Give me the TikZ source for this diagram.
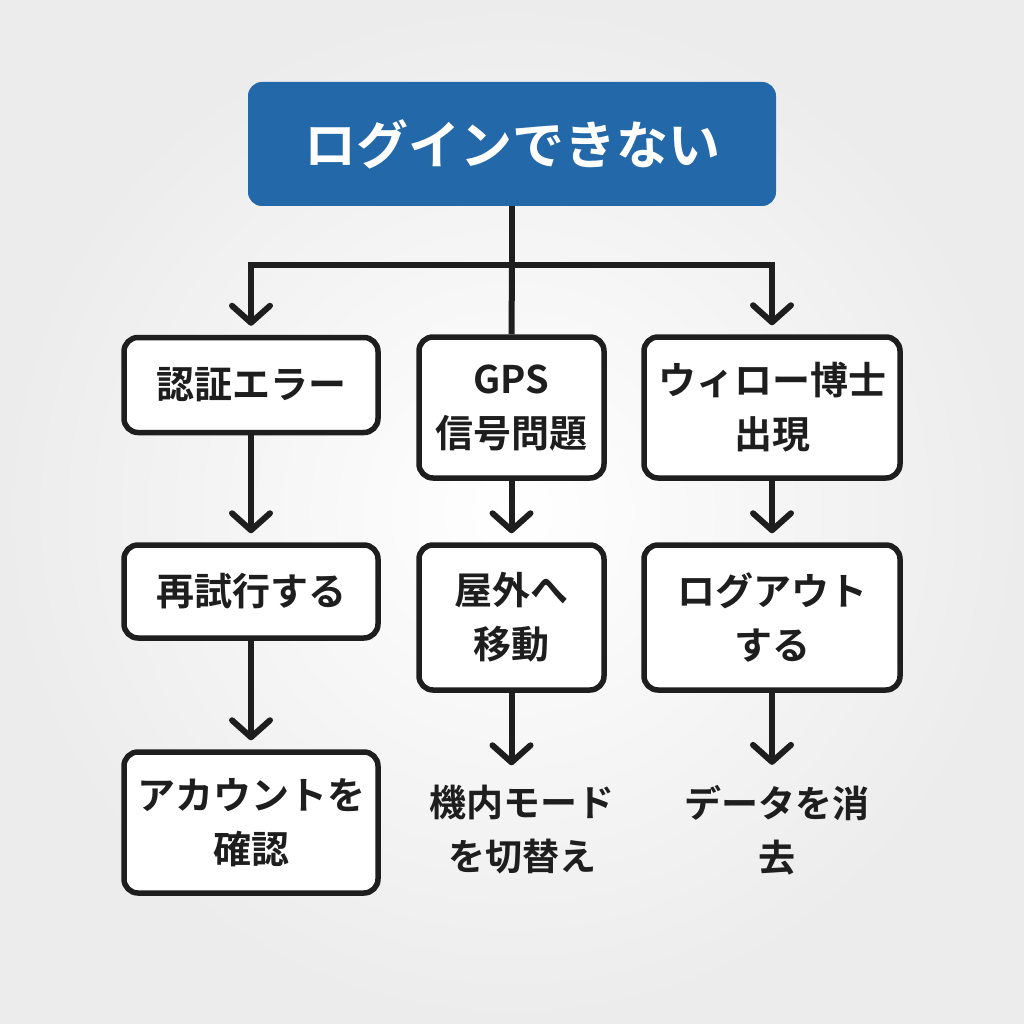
\documentclass[tikz,border=0pt]{standalone}
\usepackage{fontspec}
\setmainfont{Noto Sans CJK JP}[BoldFont={Noto Sans CJK JP Bold}]
\usetikzlibrary{arrows.meta}
\definecolor{topblue}{HTML}{2368A8}
\definecolor{ink}{HTML}{1E1E1E}
\definecolor{bgout}{HTML}{ECECEC}
\begin{document}
\begin{tikzpicture}[x=1pt,y=-1pt,
  box/.style={draw=ink,line width=5.5pt,rounded corners=14pt,fill=white,align=center,
     font=\bfseries\fontsize{38}{54}\selectfont,text=ink,inner sep=0pt},
  plain/.style={align=center,font=\bfseries\fontsize{37}{54}\selectfont,text=ink,inner sep=0pt},
  conn/.style={draw=ink,line width=6pt},
  arr/.style={conn,-{Straight Barb[length=17pt,width=38pt,line width=6pt,round]},shorten >=9pt}]
\shade[inner color=white,outer color=bgout] (0,0) rectangle (1024,1024);
\useasboundingbox (0,0) rectangle (1024,1024);
\node[fill=topblue,rounded corners=14pt,minimum width=528pt,minimum height=124pt,inner sep=0pt,
  text=white,font=\bfseries\fontsize{52}{60}\selectfont] (top) at (512,144) {ログインできない};
\node[box,minimum width=254pt,minimum height=95pt] (l1) at (251,385) {認証エラー};
\node[box,minimum width=185pt,minimum height=141pt] (m1) at (511.5,407.5) {GPS\\信号問題};
\node[box,minimum width=256pt,minimum height=141pt] (r1) at (772,407.5) {ウィロー博士\\出現};
\node[box,minimum width=254pt,minimum height=93pt] (l2) at (251,591.5) {再試行する};
\node[box,minimum width=185pt,minimum height=145pt] (m2) at (511.5,617.5) {屋外へ\\移動};
\node[box,minimum width=256pt,minimum height=145pt] (r2) at (772,617.5) {ログアウト\\する};
\node[box,minimum width=254pt,minimum height=141pt] (l3) at (251,822.5) {アカウントを\\確認};
\node[plain] (m3) at (522,830) {機内モード\\を切替え};
\node[plain] (r3) at (777,830) {データを消\\去};
\coordinate (j) at (512,265);
\draw[conn] (top.south) -- (j);
\draw[conn] (j) -- (m1.north);
\draw[arr] (j) -| (l1.north);
\draw[arr] (j) -| (r1.north);
\draw[arr] (l1.south) -- (l2.north);
\draw[arr] (m1.south) -- (m2.north);
\draw[arr] (r1.south) -- (r2.north);
\draw[arr] (l2.south) -- (l3.north);
\draw[arr,shorten >=20pt] (m2.south) -- (m2.south |- m3.north);
\draw[arr,shorten >=20pt] (r2.south) -- (r2.south |- r3.north);
\end{tikzpicture}
\end{document}
